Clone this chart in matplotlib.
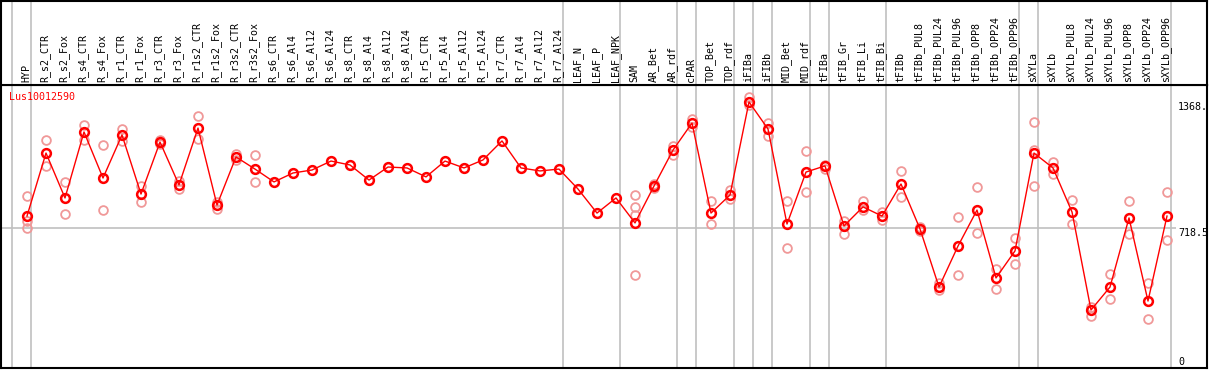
import matplotlib
matplotlib.use('Agg')
from matplotlib import pyplot as plt

labels = ['HYP', 'R_s2_CTR', 'R_s2_Fox', 'R_s4_CTR', 'R_s4_Fox', 'R_r1_CTR', 'R_r1_Fox',
          'R_r3_CTR', 'R_r3_Fox', 'R_r1s2_CTR', 'R_r1s2_Fox', 'R_r3s2_CTR', 'R_r3s2_Fox',
          'R_s6_CTR', 'R_s6_Al4', 'R_s6_Al12', 'R_s6_Al24', 'R_s8_CTR', 'R_s8_Al4',
          'R_s8_Al12', 'R_s8_Al24', 'R_r5_CTR', 'R_r5_Al4', 'R_r5_Al12', 'R_r5_Al24',
          'R_r7_CTR', 'R_r7_Al4', 'R_r7_Al12', 'R_r7_Al24', 'LEAF_N', 'LEAF_P', 'LEAF_NPK',
          'SAM', 'AR_Bet', 'AR_rdf', 'cPAR', 'TOP_Bet', 'TOP_rdf', 'iFIBa', 'iFIBb',
          'MID_Bet', 'MID_rdf', 'tFIBa', 'tFIB_Gr', 'tFIB_Li', 'tFIB_Bi', 'tFIBb',
          'tFIBb_PUL8', 'tFIBb_PUL24', 'tFIBb_PUL96', 'tFIBb_OPP8', 'tFIBb_OPP24',
          'tFIBb_OPP96', 'sXYLa', 'sXYLb', 'sXYLb_PUL8', 'sXYLb_PUL24', 'sXYLb_PUL96',
          'sXYLb_OPP8', 'sXYLb_OPP24', 'sXYLb_OPP96']

means = [783, 1121, 880, 1234, 987, 1218, 901, 1180, 950, 1255, 842, 1100, 1035,
         966, 1014, 1030, 1078, 1057, 976, 1046, 1041, 993, 1078, 1041, 1084,
         1186, 1041, 1025, 1035, 928, 799, 880,
         746, 944, 1137, 1282, 799, 896, 1395, 1250,
         740, 1019, 1052, 730, 832, 783, 955,
         714, 402, 622, 815, 451, 596,
         1121, 1041, 805, 279, 402, 773, 327, 783]

reps = [[891, 756, 719], [1191, 1052], [966, 794], [1272, 1191], [1164, 815],
        [1250, 1186], [944, 858], [1191, 1170], [971, 928], [1320, 1196],
        [858, 821], [1116, 1084], [1111, 966],
        [], [], [], [], [], [], [], [], [], [], [], [], [], [], [], [], [], [], [],
        [896, 832, 789, 467], [955, 934], [1159, 1111], [1304, 1261], [864, 740],
        [923, 874], [1422, 1379], [1282, 1212],
        [864, 612], [1132, 912], [1057, 1035], [756, 687], [864, 815], [805, 762],
        [1025, 885],
        [724, 703], [424, 386], [778, 467], [939, 692], [499, 392], [665, 526],
        [1288, 1137, 944], [1073, 1009], [869, 740], [295, 247], [472, 338],
        [864, 687], [424, 231], [912, 655]]

group_lines = [-1, 0, 28, 31, 34, 35, 37, 38, 39, 41, 42, 45, 52, 53, 60]
gene = 'Lus10012590'
mid_value = 718.5
top_value = 1368

W, H = 1209, 370
fig = plt.figure(figsize=(W / 100, H / 100), dpi=100)
mono = 'DejaVu Sans Mono'

xlim = ((1 - 27) / 19, (1207 - 27) / 19)
ax = fig.add_axes([1 / W, 2 / H, 1206 / W, 283 / H])
hdr = fig.add_axes([1 / W, 285 / H, 1206 / W, 84 / H])

x = list(range(len(labels)))

# header with column names
hdr.set_xlim(*xlim)
hdr.set_ylim(0, 1)
for i, lab in enumerate(labels):
    hdr.text(i - 0.05, 0.03, lab, rotation=90, ha='center', va='bottom',
             fontsize=7.2, family=mono, color='black')
for g in group_lines:
    hdr.axvline(g + 0.2, color='#c0c0c0', lw=1.2, zorder=0)
hdr.set_xticks([])
hdr.set_yticks([])
for s in hdr.spines.values():
    s.set_linewidth(1.5)

# main plot
ax.set_xlim(*xlim)
ax.set_ylim(-32.2, 1486)
for g in group_lines:
    ax.axvline(g + 0.2, color='#c0c0c0', lw=1.2, zorder=0)
ax.hlines(mid_value, xlim[0], (1176 - 27) / 19, color='#c0c0c0', lw=1.2, zorder=0)

rx, ry = [], []
for i, r in enumerate(reps):
    for v in r:
        rx.append(i)
        ry.append(v)
ax.plot(rx, ry, 'o', ms=6.3, mfc='none', mec='#f09898', mew=1.3, zorder=2)
ax.plot(x, means, '-', color='red', lw=1, zorder=3)
ax.plot(x, means, 'o', ms=6.3, mfc='none', mec='red', mew=1.8, zorder=4)

ax.text((1178 - 27) / 19, top_value, '1368.', ha='left', va='center',
        fontsize=7.2, family=mono)
ax.text((1178 - 27) / 19, mid_value, '718.5', ha='left', va='top',
        fontsize=7.2, family=mono)
ax.text((1178 - 27) / 19, 0, '0', ha='left', va='center',
        fontsize=7.2, family=mono)
ax.text((9 - 27) / 19, 1422, gene, ha='left', va='center', fontsize=7.2,
        family=mono, color='red')

ax.set_xticks([])
ax.set_yticks([])
for s in ax.spines.values():
    s.set_linewidth(1.5)

fig.savefig('out.png', dpi=100)
